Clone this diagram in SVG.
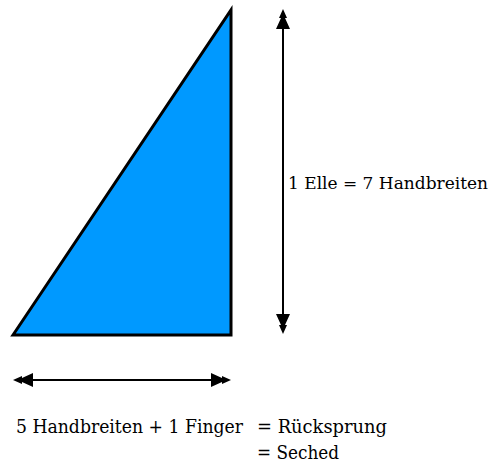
<svg xmlns="http://www.w3.org/2000/svg" xmlns:xlink="http://www.w3.org/1999/xlink" width="496" height="462" viewBox="0 0 496 462">
<style>
.lbl{font-family:"DejaVu Serif","Liberation Serif",serif;font-size:18px;fill:#000}
.sm{font-size:17px}
.ln{stroke:#000;stroke-width:2;fill:none}
.hd{fill:#000}
</style>
<defs>
<path id="head" d="M0,0 L-4,9 L-2,9 L-7,20 L7,20 L2,9 L4,9 Z"/>
</defs>
<rect width="496" height="462" fill="#fff"/>
<g id="triangle">
<polygon points="13,335 231,10 231,335" fill="#0099ff" stroke="#000" stroke-width="3" stroke-linejoin="miter"/>
</g>
<g id="connectors">
<line class="ln" x1="283" y1="20" x2="283" y2="323"/>
<use xlink:href="#head" class="hd" transform="translate(283,9)"/>
<use xlink:href="#head" class="hd" transform="translate(283,334) rotate(180)"/>
<line class="ln" x1="23" y1="380" x2="220" y2="380"/>
<use xlink:href="#head" class="hd" transform="translate(13,380) rotate(-90)"/>
<use xlink:href="#head" class="hd" transform="translate(231,380) rotate(90)"/>
</g>
<g id="label-elle">
<text class="lbl sm" x="288" y="189" textLength="200" lengthAdjust="spacingAndGlyphs">1 Elle = 7 Handbreiten</text>
</g>
<g id="label-ruecksprung">
<text class="lbl" x="16" y="433" textLength="227" lengthAdjust="spacingAndGlyphs">5 Handbreiten + 1 Finger</text>
<text class="lbl" x="257" y="433" textLength="130" lengthAdjust="spacingAndGlyphs">= Rücksprung</text>
<text class="lbl" x="257" y="459" textLength="82" lengthAdjust="spacingAndGlyphs">= Seched</text>
</g>
</svg>
